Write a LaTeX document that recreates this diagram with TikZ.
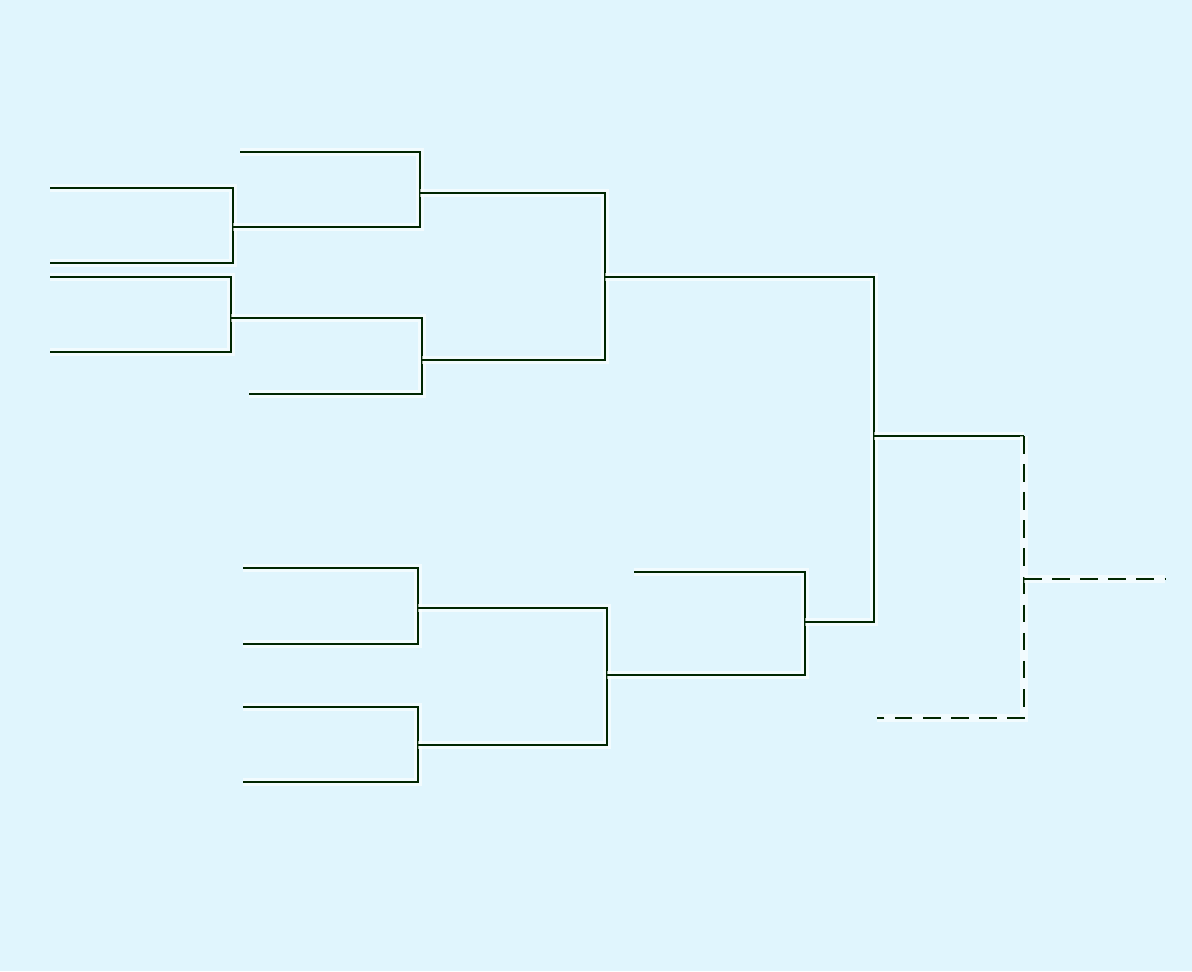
\documentclass[tikz,border=0pt]{standalone}
\usepackage{tikz}
\begin{document}
\begin{tikzpicture}[x=0.02cm,y=-0.02cm,
        wire/.style={draw=black!85!green, line width=1.2pt,
            preaction={draw=white, line width=5pt, opacity=0.6}},
        tbd/.style={wire, dashed, dash pattern=on 10pt off 6pt}
    ]
        % background
        \fill[cyan!12!white] (0,0) rectangle (1192,971);

        % entry points of the brackets
        \foreach \n/\x/\y in {a1/50/188, a2/50/263, a3/240/152, a4/50/277, a5/50/352,
            a6/249/394, b1/243/568, b2/243/644, b3/243/707, b4/243/782, b5/634/572} {
            \coordinate (\n) at (\x,\y);
        }
        % joins of the brackets
        \foreach \n/\x/\y in {j1/233/227, j2/420/193, j3/231/318, j4/422/360, j5/605/277,
            k1/418/608, k2/418/745, k3/607/675, k4/805/622, f/874/436} {
            \coordinate (\n) at (\x,\y);
        }
        \coordinate (g) at (1024,579);
        \coordinate (e) at (877,718);
        \coordinate (w) at (1165,579);

        % upper half
        \draw[wire] (a1) -| (j1) |- (a2);
        \draw[wire] (a3) -| (j2) |- (j1);
        \draw[wire] (a4) -| (j3) |- (a5);
        \draw[wire] (j3) -| (j4) |- (a6);
        \draw[wire] (j2) -| (j5) |- (j4);

        % lower half
        \draw[wire] (b1) -| (k1) |- (b2);
        \draw[wire] (b3) -| (k2) |- (b4);
        \draw[wire] (k1) -| (k3) |- (k2);
        \draw[wire] (b5) -| (k4) |- (k3);

        % final
        \draw[wire] (j5) -| (f) |- (k4);
        \draw[wire] (f) -| (1024,436);
        \draw[tbd] (1024,436) -- (e -| g) -- (e);
        \draw[tbd] (g) -- (w);
\end{tikzpicture}
\end{document}
